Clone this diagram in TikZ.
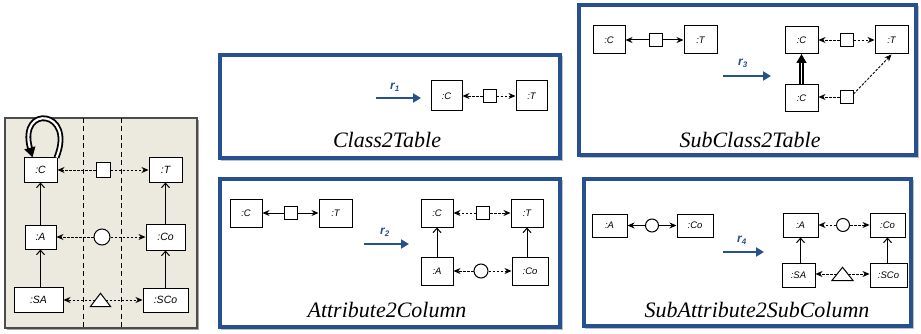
\documentclass[tikz,border=0pt]{standalone}
\usepackage{fontspec}
\setmainfont{Liberation Serif}
\setsansfont{Liberation Sans}
\usetikzlibrary{arrows.meta}
\definecolor{rulecol}{HTML}{27508F}
\definecolor{panelcol}{HTML}{ECE9DE}
\tikzset{
  obj/.style={draw, fill=white, line width=1pt, inner sep=0pt,
    font=\sffamily\itshape\fontsize{9.5}{10}\selectfont},
  bigobj/.style={obj, font=\sffamily\itshape\fontsize{10.5}{12}\selectfont},
  sqnode/.style={draw, fill=white, line width=1pt, minimum size=13pt, inner sep=0pt},
  circnode/.style={draw, fill=white, circle, line width=1pt, minimum size=13pt, inner sep=0pt},
  tribox/.style={minimum width=20pt, minimum height=13pt, inner sep=0pt},
  link/.style={line width=0.9pt, dash pattern=on 2.5pt off 1.5pt,
    -{Stealth[length=7pt,width=6pt]}},
  plainlink/.style={line width=1pt, -{Stealth[length=7pt,width=6pt]}},
  contain/.style={line width=1pt, -{Straight Barb[length=4.5pt,width=8pt]}},
  inherit/.style={double, double distance=1.8pt, line width=1.3pt,
    -{Triangle[length=9pt,width=10pt]}},
  selfloop/.style={double, double distance=2.2pt, line width=1.8pt,
    -{Triangle[length=10pt,width=11pt]}},
  sepline/.style={line width=1pt, dash pattern=on 5pt off 3.5pt},
  rulebox/.style={draw=rulecol, line width=4pt},
  boxshadow/.style={draw=black!25, line width=2pt},
  rulearrow/.style={draw=rulecol, line width=2.8pt, -{Triangle[length=8pt,width=9pt]}},
  rulelabel/.style={text=rulecol, font=\sffamily\bfseries\itshape\fontsize{12}{14}\selectfont},
  rulename/.style={anchor=base, font=\itshape\fontsize{22}{24}\selectfont},
}

\begin{document}
\begin{tikzpicture}[x=1pt, y=-1pt]
  \useasboundingbox (0,0) rectangle (921,334);

  % Correspondence graph panel.
  \fill[black!35] (7,120) rectangle (199,330);
  \draw[fill=panelcol, draw=black!70, line width=1.2pt] (5,118) rectangle (197,328);
  \draw[sepline] (83,118) -- (83,328);
  \draw[sepline] (121,118) -- (121,328);

  \node[bigobj, minimum width=33pt, minimum height=24pt] (lc) at (40.5,170) {:C};
  \node[sqnode, minimum size=14pt] (lsq) at (103,170) {};
  \node[bigobj, minimum width=33pt, minimum height=24pt] (lt) at (165.5,170) {:T};
  \node[bigobj, minimum width=31pt, minimum height=24pt] (la) at (40.5,237) {:A};
  \node[circnode, minimum size=16pt] (lcirc) at (102,237) {};
  \node[bigobj, minimum width=39pt, minimum height=26pt] (lco) at (165.5,237) {:Co};
  \node[bigobj, minimum width=49pt, minimum height=25pt] (lsa) at (38.5,300) {:SA};
  \node[tribox] (ltri) at (100.5,300) {};
  \draw[line width=1pt, fill=white] (ltri.south west) -- (ltri.south east)
    -- (ltri.north) -- cycle;
  \node[bigobj, minimum width=45pt, minimum height=24pt] (lsco) at (165.5,300) {:SCo};

  \draw[link] (lsq) -- (lc);
  \draw[link] (lsq) -- (lt);
  \draw[link] (lcirc) -- (la);
  \draw[link] (lcirc) -- (lco);
  \draw[link] ([xshift=5pt]ltri.west) -- (lsa);
  \draw[link] ([xshift=-5pt]ltri.east) -- (lsco);
  \draw[contain] (la) -- (lc);
  \draw[contain] (lsa.north -| la.south) -- (la.south);
  \draw[contain] (lco) -- (lt);
  \draw[contain] (lsco) -- (lco);
  \draw[selfloop] ([xshift=-1pt]lc.north east) .. controls (76,110) and (18,104)
    .. ([xshift=9pt]lc.north west);

  % Rule frames.
  \draw[boxshadow] (222,57) rectangle (562,160);
  \draw[rulebox, fill=white] (220,55) rectangle (560,158);
  \draw[boxshadow] (581,7) rectangle (918,157);
  \draw[rulebox, fill=white] (579,5) rectangle (916,155);
  \draw[boxshadow] (222,181) rectangle (562,329);
  \draw[rulebox, fill=white] (220,179) rectangle (560,327);
  \draw[boxshadow] (586,181) rectangle (913,328);
  \draw[rulebox, fill=white] (584,179) rectangle (911,326);

  % Rule r1: Class2Table.
  \coordinate (r1s) at (376,98);
  \coordinate (r1e) at (421,98);
  \draw[rulearrow] (r1s) -- (r1e);
  \node[rulelabel] (r1) at (395,87) {r\textsubscript{1}};
  \node[obj, minimum width=31pt, minimum height=30pt] (ct-c) at (446.5,96) {:C};
  \node[sqnode] (ct-sq) at (489.5,96) {};
  \node[obj, minimum width=31pt, minimum height=30pt] (ct-t) at (531.5,96) {:T};
  \draw[link] (ct-sq) -- (ct-c);
  \draw[link] (ct-sq) -- (ct-t);
  \node[rulename] (ct-name) at (387,147) {Class2Table};

  % Rule r3: SubClass2Table.
  \node[obj, minimum width=32pt, minimum height=28pt] (sc-lc) at (609,40) {:C};
  \node[sqnode] (sc-lsq) at (655.5,40) {};
  \node[obj, minimum width=33pt, minimum height=28pt] (sc-lt) at (700.5,40) {:T};
  \draw[plainlink] (sc-lsq) -- (sc-lc);
  \draw[plainlink] (sc-lsq) -- (sc-lt);
  \coordinate (r3s) at (723,76);
  \coordinate (r3e) at (771,76);
  \draw[rulearrow] (r3s) -- (r3e);
  \node[rulelabel] (r3) at (743,63) {r\textsubscript{3}};
  \node[obj, minimum width=33pt, minimum height=27pt] (sc-c) at (801.5,40) {:C};
  \node[sqnode] (sc-sq) at (846.5,40) {};
  \node[obj, minimum width=33pt, minimum height=28pt] (sc-t) at (891.5,40) {:T};
  \node[obj, minimum width=33pt, minimum height=27pt] (sc-sub) at (801.5,98) {:C};
  \node[sqnode] (sc-sq2) at (846.5,97) {};
  \draw[link] (sc-sq) -- (sc-c);
  \draw[link] (sc-sq) -- (sc-t);
  \draw[link] (sc-sq2.west) -- (sc-sq2.west -| sc-sub.east);
  \draw[link] ([yshift=3pt]sc-sq2.east) -- (sc-t.south);
  \draw[inherit] (sc-sub) -- (sc-c);
  \node[rulename] (sc-name) at (750,147) {SubClass2Table};

  % Rule r2: Attribute2Column.
  \node[obj, minimum width=32pt, minimum height=28pt] (ac-lc) at (246,213) {:C};
  \node[sqnode] (ac-lsq) at (291,213) {};
  \node[obj, minimum width=33pt, minimum height=28pt] (ac-lt) at (335.5,213) {:T};
  \draw[plainlink] (ac-lsq) -- (ac-lc);
  \draw[plainlink] (ac-lsq) -- (ac-lt);
  \coordinate (r2s) at (364,244);
  \coordinate (r2e) at (409,244);
  \draw[rulearrow] (r2s) -- (r2e);
  \node[rulelabel] (r2) at (385,232) {r\textsubscript{2}};
  \node[obj, minimum width=32pt, minimum height=28pt] (ac-c) at (437,213) {:C};
  \node[sqnode] (ac-sq) at (483,213) {};
  \node[obj, minimum width=32pt, minimum height=28pt] (ac-t) at (527,213) {:T};
  \node[obj, minimum width=32pt, minimum height=28pt] (ac-a) at (437,271) {:A};
  \node[circnode, minimum size=14pt] (ac-circ) at (481,271) {};
  \node[obj, minimum width=36pt, minimum height=28pt] (ac-co) at (530,271) {:Co};
  \draw[link] (ac-sq) -- (ac-c);
  \draw[link] (ac-sq) -- (ac-t);
  \draw[link] (ac-circ) -- (ac-a);
  \draw[link] (ac-circ) -- (ac-co);
  \draw[contain] (ac-a) -- (ac-c);
  \draw[contain] (ac-co.north -| ac-t.south) -- (ac-t.south);
  \node[rulename] (ac-name) at (387,317) {Attribute2Column};

  % Rule r4: SubAttribute2SubColumn.
  \node[obj, minimum width=35pt, minimum height=23pt] (sa-la) at (609.5,225.5) {:A};
  \node[circnode] (sa-lcirc) at (652,225.5) {};
  \node[obj, minimum width=36pt, minimum height=23pt] (sa-lco) at (695,225.5) {:Co};
  \draw[plainlink] (sa-lcirc) -- (sa-la);
  \draw[plainlink] (sa-lcirc) -- (sa-lco);
  \coordinate (r4s) at (723,252);
  \coordinate (r4e) at (764,252);
  \draw[rulearrow] (r4s) -- (r4e);
  \node[rulelabel] (r4) at (742,240) {r\textsubscript{4}};
  \node[obj, minimum width=35pt, minimum height=24pt] (sa-a) at (800.5,225) {:A};
  \node[circnode] (sa-circ) at (843,225) {};
  \node[obj, minimum width=35pt, minimum height=24pt] (sa-co) at (887.5,225) {:Co};
  \node[obj, minimum width=33pt, minimum height=24pt] (sa-sa) at (798.5,275) {:SA};
  \node[tribox, minimum width=21pt] (sa-tri) at (842.5,274) {};
  \draw[line width=1pt, fill=white] (sa-tri.south west) -- (sa-tri.south east)
    -- (sa-tri.north) -- cycle;
  \node[obj, minimum width=37pt, minimum height=24pt] (sa-sco) at (888.5,275) {:SCo};
  \draw[link] (sa-circ) -- (sa-a);
  \draw[link] (sa-circ) -- (sa-co);
  \draw[link] ([xshift=5pt]sa-tri.west) -- (sa-tri.west -| sa-sa.east);
  \draw[link] ([xshift=-5pt]sa-tri.east) -- (sa-tri.east -| sa-sco.west);
  \draw[contain] (sa-sa.north -| sa-a.south) -- (sa-a.south);
  \draw[contain] (sa-sco.north -| sa-co.south) -- (sa-co.south);
  \node[rulename] (sa-name) at (757,317) {SubAttribute2SubColumn};

\end{tikzpicture}
\end{document}
